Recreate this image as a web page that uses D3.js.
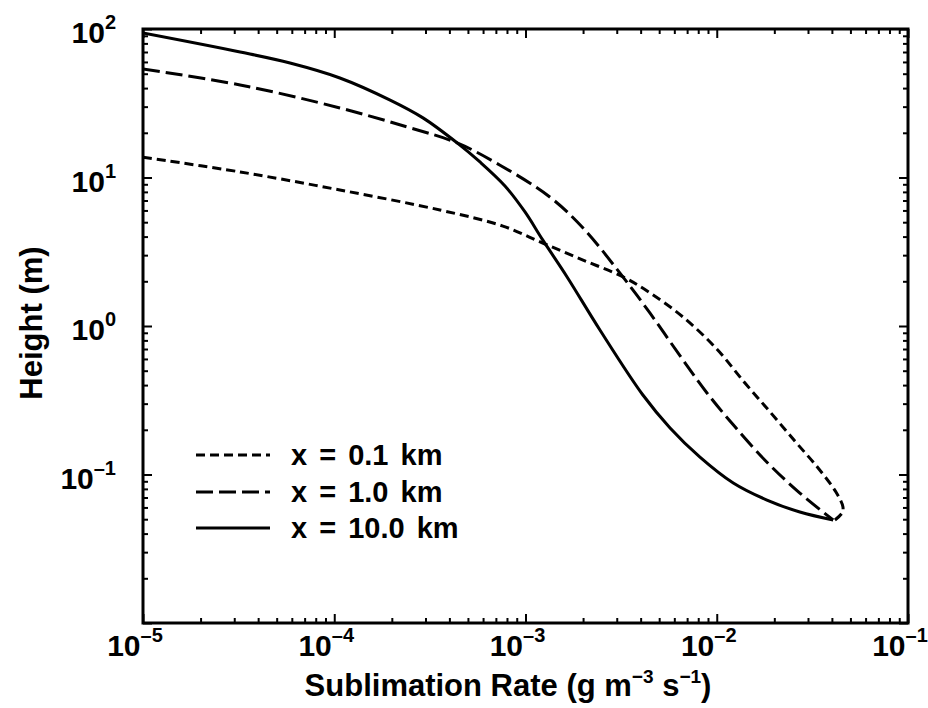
<!DOCTYPE html>
<html>
<head>
<meta charset="utf-8">
<script src="https://cdn.jsdelivr.net/npm/d3@7"></script>
<style>
  html, body { margin: 0; padding: 0; background: #fff; }
  svg { display: block; }
  text { font-family: "Liberation Sans", Arial, Helvetica, sans-serif; font-weight: bold; fill: #000; }
</style>
</head>
<body>
<svg id="chart" width="928" height="708"></svg>
<script>
// Sublimation rate profiles at three downwind distances
const rate01 = [1.00e-5, 3.22e-5, 1.07e-4, 3.57e-4, 7.62e-4, 1.23e-3, 2.00e-3, 3.24e-3, 4.48e-3, 6.66e-3, 1.00e-2, 1.405e-2, 1.90e-2, 2.56e-2, 3.38e-2, 4.20e-2, 4.57e-2, 4.52e-2, 4.15e-2];
const height01 = [13.7, 10.9, 8.24, 6.04, 4.71, 3.62, 2.78, 2.14, 1.67, 1.15, 0.700, 0.413, 0.264, 0.168, 0.111, 0.0762, 0.0604, 0.0551, 0.0494];

const rate1 = [1.00e-5, 3.22e-5, 1.07e-4, 2.40e-4, 4.39e-4, 7.36e-4, 1.34e-3, 2.00e-3, 3.12e-3, 4.48e-3, 6.66e-3, 8.89e-3, 1.22e-2, 1.83e-2, 2.72e-2, 4.06e-2];
const height1 = [53.8, 42.0, 29.4, 21.9, 17.1, 12.1, 7.39, 4.57, 2.27, 1.22, 0.590, 0.354, 0.216, 0.121, 0.0750, 0.0494];

const rate10 = [1.00e-5, 3.22e-5, 5.87e-5, 1.07e-4, 1.96e-4, 2.91e-4, 4.39e-4, 5.78e-4, 7.81e-4, 9.94e-4, 1.23e-3, 1.65e-3, 2.45e-3, 4.11e-3, 5.70e-3, 8.17e-3, 1.22e-2, 1.83e-2, 2.72e-2, 4.06e-2];
const height10 = [94.0, 70.0, 59.0, 46.8, 33.2, 25.2, 17.1, 12.72, 8.77, 5.86, 3.80, 2.14, 0.940, 0.343, 0.206, 0.131, 0.0877, 0.0673, 0.0559, 0.0494];

const seriesLabels = ["x = 0.1 km", "x = 1.0 km", "x = 10.0 km"];
const xExponents = [-5, -4, -3, -2, -1];
const yExponents = [2, 1, 0, -1];

const svg = d3.select("#chart");
const plotLeft = 143, plotRight = 908, plotTop = 29, plotBottom = 623;

const x = d3.scaleLog().domain([1e-5, 1e-1]).range([plotLeft, plotRight]);
const y = d3.scaleLog().domain([1e-2, 1e2]).range([plotBottom, plotTop]);

// minor + major tick values
function logTicks(lo, hi) {
  const major = [], minor = [];
  for (let e = lo; e <= hi; e++) {
    major.push(Math.pow(10, e));
    if (e < hi) for (let m = 2; m <= 9; m++) minor.push(m * Math.pow(10, e));
  }
  return { major, minor };
}
const xt = logTicks(-5, -1);
const yt = logTicks(-2, 2);

function addAxis(axisFn, scale, vals, size, transform) {
  const g = svg.append("g").attr("transform", transform)
    .call(axisFn(scale).tickValues(vals).tickSize(size).tickFormat(""));
  g.select(".domain").remove();
  g.selectAll(".tick line").attr("stroke", "#000").attr("stroke-width", 2);
}
// inward ticks on all four sides
addAxis(d3.axisBottom, x, xt.major, -9, `translate(0,${plotBottom})`);
addAxis(d3.axisBottom, x, xt.minor, -5, `translate(0,${plotBottom})`);
addAxis(d3.axisTop, x, xt.major, -9, `translate(0,${plotTop})`);
addAxis(d3.axisTop, x, xt.minor, -5, `translate(0,${plotTop})`);
addAxis(d3.axisLeft, y, yt.major, -9, `translate(${plotLeft},0)`);
addAxis(d3.axisLeft, y, yt.minor, -5, `translate(${plotLeft},0)`);
addAxis(d3.axisRight, y, yt.major, -9, `translate(${plotRight},0)`);
addAxis(d3.axisRight, y, yt.minor, -5, `translate(${plotRight},0)`);

// frame
svg.append("rect")
  .attr("x", plotLeft).attr("y", plotTop)
  .attr("width", plotRight - plotLeft).attr("height", plotBottom - plotTop)
  .attr("fill", "none").attr("stroke", "#000").attr("stroke-width", 3);

// curves
const line = d3.line()
  .x(d => x(d[0])).y(d => y(d[1]))
  .curve(d3.curveCatmullRom.alpha(0.5));

const series = [
  { rate: rate01, height: height01, dash: "9,5" },
  { rate: rate1, height: height1, dash: "17,6" },
  { rate: rate10, height: height10, dash: null }
];

svg.append("defs").append("clipPath").attr("id", "plotclip")
  .append("rect").attr("x", plotLeft).attr("y", plotTop)
  .attr("width", plotRight - plotLeft).attr("height", plotBottom - plotTop);

series.forEach(s => {
  const pts = s.rate.map((r, i) => [r, s.height[i]]);
  svg.append("path")
    .attr("d", line(pts))
    .attr("fill", "none")
    .attr("stroke", "#000")
    .attr("stroke-width", 3)
    .attr("stroke-dasharray", s.dash)
    .attr("clip-path", "url(#plotclip)");
});

// legend
const legendY = [455, 492, 528];
series.forEach((s, i) => {
  svg.append("line")
    .attr("x1", 196).attr("x2", 270)
    .attr("y1", legendY[i]).attr("y2", legendY[i])
    .attr("stroke", "#000").attr("stroke-width", 3)
    .attr("stroke-dasharray", s.dash);
  svg.append("text")
    .attr("x", 291).attr("y", legendY[i] + 10)
    .attr("font-size", 29)
    .attr("word-spacing", 4)
    .text(seriesLabels[i]);
});

// power-of-ten tick labels
function powLabel(g, e) {
  g.append("tspan").attr("font-size", 30).text("10");
  g.append("tspan").attr("font-size", 20).attr("dy", -14)
    .text((e < 0 ? "\u2013" : "") + Math.abs(e));
}
xExponents.forEach(e => {
  const t = svg.append("text")
    .attr("x", x(Math.pow(10, e)) - 8)
    .attr("y", 656)
    .attr("text-anchor", "middle");
  powLabel(t, e);
});
yExponents.forEach(e => {
  const t = svg.append("text")
    .attr("x", 116)
    .attr("y", y(Math.pow(10, e)) + 14)
    .attr("text-anchor", "end");
  powLabel(t, e);
});

// axis titles
const xTitle = svg.append("text")
  .attr("x", 508).attr("y", 696)
  .attr("text-anchor", "middle")
  .attr("font-size", 31);
xTitle.append("tspan").text("Sublimation Rate (g m");
xTitle.append("tspan").attr("font-size", 19).attr("dy", -13).text("\u22123");
xTitle.append("tspan").attr("dy", 13).text(" s");
xTitle.append("tspan").attr("font-size", 19).attr("dy", -13).text("\u22121");
xTitle.append("tspan").attr("dy", 13).text(")");

svg.append("text")
  .attr("transform", "translate(42,323) rotate(-90)")
  .attr("text-anchor", "middle")
  .attr("font-size", 31)
  .text("Height (m)");
</script>
</body>
</html>
